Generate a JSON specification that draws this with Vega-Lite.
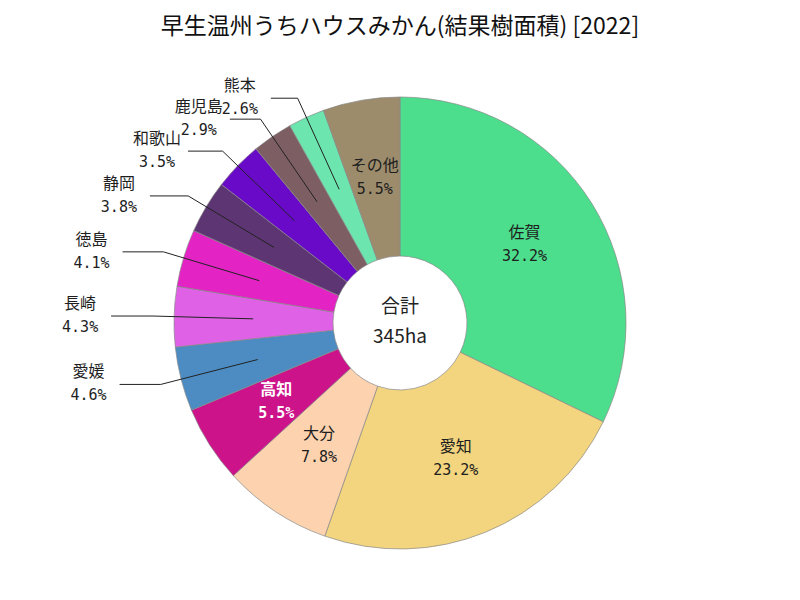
{
  "$schema": "https://vega.github.io/schema/vega-lite/v6.json",
  "width": 800,
  "height": 554,
  "autosize": {"type": "none"},
  "padding": {"top": 46, "left": 0, "right": 0, "bottom": 0},
  "background": "white",
  "title": {"text": "早生温州うちハウスみかん(結果樹面積) [2022]", "font": "Noto Sans CJK JP", "fontSize": 23, "fontWeight": "normal", "color": "#111", "anchor": "middle", "offset": 7},
  "config": {"view": {"stroke": null}},
  "data": {"values": [
    {"name": "佐賀", "pct": 32.2},
    {"name": "愛知", "pct": 23.2},
    {"name": "大分", "pct": 7.8},
    {"name": "高知", "pct": 5.5},
    {"name": "愛媛", "pct": 4.6},
    {"name": "長崎", "pct": 4.3},
    {"name": "徳島", "pct": 4.1},
    {"name": "静岡", "pct": 3.8},
    {"name": "和歌山", "pct": 3.5},
    {"name": "鹿児島", "pct": 2.9},
    {"name": "熊本", "pct": 2.6},
    {"name": "その他", "pct": 5.5}
  ]},
  "transform": [
    {"window": [{"op": "row_number", "as": "idx"}]},
    {"window": [{"op": "sum", "field": "pct", "as": "cum"}], "sort": [{"field": "idx"}], "frame": [null, 0]},
    {"joinaggregate": [{"op": "sum", "field": "pct", "as": "tot"}]},
    {"calculate": "2*PI*(datum.cum - datum.pct/2)/datum.tot", "as": "mid"},
    {"calculate": "datum.pct < 5", "as": "outside"},
    {"calculate": "0.65*sin(datum.mid)", "as": "sx"},
    {"calculate": "0.65*cos(datum.mid)", "as": "sy"},
    {"calculate": "(247/226)*sin(datum.mid)", "as": "ex"},
    {"calculate": "(247/226)*cos(datum.mid)", "as": "ey"},
    {"calculate": "datum.ex - (16 + 26*abs(sin(datum.mid)))/226", "as": "tx"},
    {"calculate": "datum.outside ? datum.tx - 31/226 : datum.sx", "as": "lx"},
    {"calculate": "datum.outside ? datum.ey : datum.sy", "as": "ly"},
    {"calculate": "format(datum.pct, '.1f') + '%'", "as": "plabel"},
    {"calculate": "datum.name === '高知'", "as": "hl"}
  ],
  "layer": [
    {
      "mark": {"type": "arc", "outerRadius": 226, "innerRadius": 67, "stroke": "#888", "strokeWidth": 0.7},
      "encoding": {
        "theta": {"field": "pct", "type": "quantitative", "stack": true},
        "order": {"field": "idx", "type": "quantitative"},
        "color": {"field": "name", "type": "nominal", "legend": null,
          "scale": {
            "domain": ["佐賀", "愛知", "大分", "高知", "愛媛", "長崎", "徳島", "静岡", "和歌山", "鹿児島", "熊本", "その他"],
            "range": ["#4CDD8D", "#F2D57E", "#FDD3AF", "#CC138A", "#4C8CC2", "#DE61E6", "#E323C3", "#5D3573", "#6A0AC9", "#7D5E63", "#6CE6AE", "#9C8C6C"]
          }}
      }
    },
    {
      "transform": [{"filter": "datum.outside"}],
      "mark": {"type": "rule", "color": "#222", "strokeWidth": 1},
      "encoding": {
        "x": {"field": "sx", "type": "quantitative", "axis": null, "scale": {"domain": [-1.7699, 1.7699], "nice": false, "zero": false}},
        "y": {"field": "sy", "type": "quantitative", "axis": null, "scale": {"domain": [-1.2257, 1.2257], "nice": false, "zero": false}},
        "x2": {"field": "ex"},
        "y2": {"field": "ey"}
      }
    },
    {
      "transform": [{"filter": "datum.outside"}],
      "mark": {"type": "rule", "color": "#222", "strokeWidth": 1},
      "encoding": {
        "x": {"field": "ex", "type": "quantitative", "axis": null, "scale": {"domain": [-1.7699, 1.7699], "nice": false, "zero": false}},
        "y": {"field": "ey", "type": "quantitative", "axis": null, "scale": {"domain": [-1.2257, 1.2257], "nice": false, "zero": false}},
        "x2": {"field": "tx"},
        "y2": {"field": "ey"}
      }
    },
    {
      "transform": [{"filter": "!datum.hl"}],
      "mark": {"type": "text", "font": "Noto Sans CJK JP", "fontSize": 16, "dy": -12, "align": "center", "baseline": "middle", "color": "#1e1e1e"},
      "encoding": {
        "x": {"field": "lx", "type": "quantitative", "axis": null, "scale": {"domain": [-1.7699, 1.7699], "nice": false, "zero": false}},
        "y": {"field": "ly", "type": "quantitative", "axis": null, "scale": {"domain": [-1.2257, 1.2257], "nice": false, "zero": false}},
        "text": {"field": "name"}
      }
    },
    {
      "transform": [{"filter": "!datum.hl"}],
      "mark": {"type": "text", "font": "DejaVu Sans Mono", "fontSize": 15, "dy": 11, "align": "center", "baseline": "middle", "color": "#1e1e1e"},
      "encoding": {
        "x": {"field": "lx", "type": "quantitative", "axis": null, "scale": {"domain": [-1.7699, 1.7699], "nice": false, "zero": false}},
        "y": {"field": "ly", "type": "quantitative", "axis": null, "scale": {"domain": [-1.2257, 1.2257], "nice": false, "zero": false}},
        "text": {"field": "plabel"}
      }
    },
    {
      "transform": [{"filter": "datum.hl"}],
      "mark": {"type": "text", "font": "Noto Sans CJK JP", "fontSize": 16, "fontWeight": "bold", "dy": -12, "align": "center", "baseline": "middle", "color": "#ffffff"},
      "encoding": {
        "x": {"field": "lx", "type": "quantitative", "axis": null, "scale": {"domain": [-1.7699, 1.7699], "nice": false, "zero": false}},
        "y": {"field": "ly", "type": "quantitative", "axis": null, "scale": {"domain": [-1.2257, 1.2257], "nice": false, "zero": false}},
        "text": {"field": "name"}
      }
    },
    {
      "transform": [{"filter": "datum.hl"}],
      "mark": {"type": "text", "font": "DejaVu Sans Mono", "fontSize": 15, "fontWeight": "bold", "dy": 11, "align": "center", "baseline": "middle", "color": "#ffffff"},
      "encoding": {
        "x": {"field": "lx", "type": "quantitative", "axis": null, "scale": {"domain": [-1.7699, 1.7699], "nice": false, "zero": false}},
        "y": {"field": "ly", "type": "quantitative", "axis": null, "scale": {"domain": [-1.2257, 1.2257], "nice": false, "zero": false}},
        "text": {"field": "plabel"}
      }
    },
    {
      "transform": [{"filter": "datum.idx === 1"}],
      "mark": {"type": "text", "font": "Noto Sans CJK JP", "fontSize": 19, "dy": -16, "align": "center", "baseline": "middle", "color": "#222"},
      "encoding": {
        "x": {"datum": 0, "type": "quantitative", "axis": null, "scale": {"domain": [-1.7699, 1.7699], "nice": false, "zero": false}},
        "y": {"datum": 0, "type": "quantitative", "axis": null, "scale": {"domain": [-1.2257, 1.2257], "nice": false, "zero": false}},
        "text": {"value": "合計"}
      }
    },
    {
      "transform": [{"filter": "datum.idx === 1"}],
      "mark": {"type": "text", "font": "Noto Sans CJK JP", "fontSize": 19, "dy": 14, "align": "center", "baseline": "middle", "color": "#222"},
      "encoding": {
        "x": {"datum": 0, "type": "quantitative", "axis": null, "scale": {"domain": [-1.7699, 1.7699], "nice": false, "zero": false}},
        "y": {"datum": 0, "type": "quantitative", "axis": null, "scale": {"domain": [-1.2257, 1.2257], "nice": false, "zero": false}},
        "text": {"value": "345ha"}
      }
    }
  ]
}
